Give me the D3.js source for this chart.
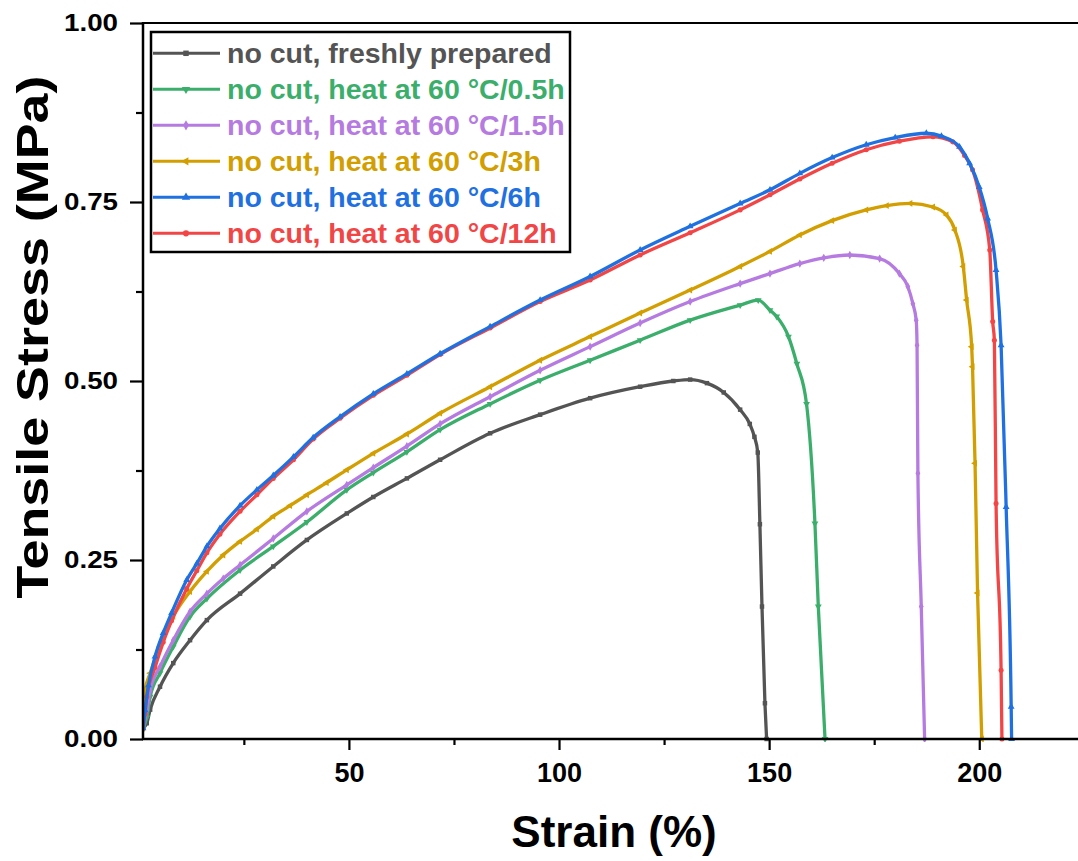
<!DOCTYPE html>
<html><head><meta charset="utf-8">
<script src="https://cdn.jsdelivr.net/npm/d3@7"></script>
<style>
body{margin:0;background:#fff}
text{font-family:"Liberation Sans",Arial,sans-serif;font-weight:bold}
</style>
</head><body><svg id="c" width="1078" height="861"></svg>
<script>
// ---------- data ----------
const seriesNames = [
  "no cut, freshly prepared",
  "no cut, heat at 60 \u00B0C/0.5h",
  "no cut, heat at 60 \u00B0C/1.5h",
  "no cut, heat at 60 \u00B0C/3h",
  "no cut, heat at 60 \u00B0C/6h",
  "no cut, heat at 60 \u00B0C/12h"
];
const xTicks = [50, 100, 150, 200];
const xMinorTicks = [25, 75, 125, 175];
const yTicks = [0, 0.25, 0.5, 0.75, 1.0];
const yMinorTicks = [0.125, 0.375, 0.625, 0.875];

const strainFresh = [1,1.9,2.7,5.05,8.2,12.2,16.2,24.1,32,40,49.5,55.8,63.8,71.7,83.6,95.5,107.4,119.3,127.2,131.2,135.2,139.2,143.1,145.4,146.5,147.3,147.8,148.3,149,149.4];
const stressFresh = [0.015,0.022,0.041,0.073,0.106,0.138,0.166,0.203,0.241,0.278,0.315,0.338,0.364,0.39,0.427,0.453,0.476,0.492,0.500,0.502,0.497,0.484,0.460,0.440,0.422,0.40,0.30,0.185,0.05,0];

const strain05 = [1,1.9,2.7,5.05,8.2,12.2,16.2,24.1,32,40,49.5,55.8,63.8,71.7,83.6,95.5,107.4,119.3,131.2,143.1,147.4,150.2,151.8,154.6,156.6,158.9,160.9,161.7,163.3];
const stress05 = [0.015,0.03,0.059,0.092,0.129,0.171,0.196,0.236,0.269,0.303,0.348,0.372,0.401,0.432,0.468,0.501,0.529,0.557,0.585,0.606,0.613,0.599,0.59,0.562,0.524,0.468,0.301,0.185,0];

const strain15 = [1,1.9,2.7,5.05,8.2,12.2,16.2,20.1,24.1,32,40,49.5,55.8,63.8,71.7,83.6,95.5,107.4,119.3,131.2,143.1,150.2,157.3,163,169.2,176.3,181,183,184.2,185,185.2,185.4,186.2,187];
const stress15 = [0.015,0.04,0.068,0.101,0.138,0.178,0.203,0.224,0.243,0.28,0.318,0.355,0.379,0.409,0.44,0.478,0.515,0.548,0.581,0.611,0.636,0.650,0.664,0.672,0.676,0.671,0.65,0.632,0.608,0.585,0.55,0.371,0.185,0];

const strain3 = [1,1.5,2.7,5.05,8.2,12.2,16.2,20.1,24.1,28.1,32,36,40,44.7,49.5,55.8,63.8,71.7,83.6,95.5,107.4,119.3,131.2,143.1,150.2,157.3,165,173.1,178,183.6,189,192.2,194.2,196.2,197,198.2,198.4,199,199.6,200.6];
const stress3 = [0.015,0.068,0.092,0.129,0.171,0.206,0.234,0.257,0.276,0.293,0.311,0.326,0.341,0.358,0.376,0.399,0.426,0.455,0.492,0.529,0.562,0.595,0.627,0.660,0.681,0.704,0.724,0.739,0.745,0.748,0.743,0.732,0.711,0.66,0.613,0.548,0.52,0.385,0.204,0];

const strain6 = [1,1.5,2.3,3.86,5.8,7.8,11.4,13.8,16.2,19.3,24.1,28.1,32,36.8,41.5,47.9,55.8,63.8,71.7,83.6,95.5,107.4,119.3,131.2,143.1,150.2,157.3,165,173.1,180,187.4,191,195.3,197.7,200,202,204,205.2,206.4,207.6,207.7];
const stress6 = [0.015,0.04,0.075,0.115,0.148,0.176,0.222,0.245,0.269,0.294,0.326,0.348,0.368,0.394,0.421,0.450,0.482,0.510,0.538,0.576,0.613,0.646,0.683,0.716,0.748,0.767,0.790,0.812,0.830,0.840,0.846,0.842,0.827,0.804,0.771,0.727,0.655,0.55,0.324,0.045,0];

const strain12 = [1,1.5,1.9,3.86,5.8,7.8,11.4,13.8,16.2,19.3,24.1,28.1,32,36.8,41.5,47.9,55.8,63.8,71.7,83.6,95.5,107.4,119.3,131.2,143.1,150.2,157.3,165,173.1,181,189,193.7,196.5,198.4,200.8,202.5,203.2,203.6,204,205.2,205.4];
const stress12 = [0.015,0.035,0.059,0.10,0.135,0.165,0.21,0.235,0.26,0.286,0.318,0.341,0.364,0.39,0.419,0.448,0.480,0.508,0.537,0.574,0.611,0.641,0.676,0.707,0.739,0.760,0.782,0.804,0.823,0.835,0.841,0.834,0.815,0.795,0.739,0.683,0.583,0.557,0.329,0.096,0];

const seriesColors = ["#545454","#3BAE6B","#B57BE0","#D29E00","#1F70E0","#F24545"];

// ---------- layout ----------
const svg = d3.select("#c");
svg.append("rect").attr("width",1078).attr("height",861).attr("fill","#fff");

const x = d3.scaleLinear().domain([1, 223.5]).range([143, 1078]);
const y = d3.scaleLinear().domain([0, 1]).range([739, 23]);

const series = [
  {name: seriesNames[0], xs: strainFresh, ys: stressFresh, color: seriesColors[0], sym: d3.symbolSquare, rot: 0},
  {name: seriesNames[1], xs: strain05, ys: stress05, color: seriesColors[1], sym: d3.symbolTriangle, rot: 180},
  {name: seriesNames[2], xs: strain15, ys: stress15, color: seriesColors[2], sym: d3.symbolDiamond, rot: 0},
  {name: seriesNames[3], xs: strain3, ys: stress3, color: seriesColors[3], sym: d3.symbolTriangle, rot: -90},
  {name: seriesNames[4], xs: strain6, ys: stress6, color: seriesColors[4], sym: d3.symbolTriangle, rot: 0},
  {name: seriesNames[5], xs: strain12, ys: stress12, color: seriesColors[5], sym: d3.symbolCircle, rot: 0}
];

svg.append("clipPath").attr("id","pc").append("rect")
  .attr("x",143).attr("y",20).attr("width",935).attr("height",722);

// draw order: black, green, purple, gold, red, blue
const order = [0,1,2,3,5,4];
const line = d3.line().x(d => x(d[0])).y(d => y(d[1])).curve(d3.curveMonotoneX);
const gPlot = svg.append("g").attr("clip-path","url(#pc)");
order.forEach(i => {
  const s = series[i];
  const pts = s.xs.map((v,k) => [v, s.ys[k]]);
  gPlot.append("path").datum(pts).attr("d", line)
    .attr("fill","none").attr("stroke", s.color).attr("stroke-width",3.3)
    .attr("stroke-linejoin","round");
  gPlot.selectAll(null).data(pts).enter().append("path")
    .attr("d", d3.symbol().type(s.sym).size(20))
    .attr("transform", d => `translate(${x(d[0])},${y(d[1])}) rotate(${s.rot})`)
    .attr("fill", s.color);
});

// ---------- axes ----------
const fmtY = d3.format(".2f");
const gx = svg.append("g").attr("transform","translate(0,739)")
  .call(d3.axisBottom(x).tickValues(xTicks).tickSize(11).tickPadding(13).tickFormat(d3.format("d")));
const gxm = svg.append("g").attr("transform","translate(0,739)")
  .call(d3.axisBottom(x).tickValues(xMinorTicks).tickSize(6).tickFormat(""));
const gy = svg.append("g").attr("transform","translate(143,0)")
  .call(d3.axisLeft(y).tickValues(yTicks).tickSize(13).tickPadding(12).tickFormat(fmtY));
const gym = svg.append("g").attr("transform","translate(143,0)")
  .call(d3.axisLeft(y).tickValues(yMinorTicks).tickSize(7).tickFormat(""));
[gx,gxm,gy,gym].forEach(g => {
  g.select(".domain").remove();
  g.selectAll(".tick line").attr("stroke","#000").attr("stroke-width",2.2);
});
gx.selectAll(".tick text").attr("font-size",27).attr("fill","#000");
gy.selectAll(".tick text").attr("font-size",23).attr("fill","#000")
  .attr("textLength",54).attr("lengthAdjust","spacingAndGlyphs");

// axis lines / frame
svg.append("line").attr("x1",143).attr("x2",143).attr("y1",22).attr("y2",740)
  .attr("stroke","#000").attr("stroke-width",2.5);
svg.append("line").attr("x1",142).attr("x2",1078).attr("y1",739).attr("y2",739)
  .attr("stroke","#000").attr("stroke-width",2.5);
svg.append("line").attr("x1",142).attr("x2",1078).attr("y1",23).attr("y2",23)
  .attr("stroke","#000").attr("stroke-width",2);

// axis titles
svg.append("text").attr("x",614).attr("y",847).attr("text-anchor","middle")
  .attr("font-size",44).attr("fill","#000").text("Strain (%)");
svg.append("text").attr("transform","translate(48,337) rotate(-90)").attr("text-anchor","middle")
  .attr("font-size",44).attr("fill","#000")
  .attr("textLength",523).attr("lengthAdjust","spacingAndGlyphs")
  .text("Tensile Stress (MPa)");

// ---------- legend ----------
const lg = svg.append("g");
lg.append("rect").attr("x",151).attr("y",32).attr("width",419).attr("height",220)
  .attr("fill","#fff").attr("stroke","#000").attr("stroke-width",2.5);
series.forEach((s,i) => {
  const cy = 53.3 + i*36;
  lg.append("line").attr("x1",153).attr("x2",220).attr("y1",cy).attr("y2",cy)
    .attr("stroke",s.color).attr("stroke-width",3);
  lg.append("path").attr("d", d3.symbol().type(s.sym).size(30)())
    .attr("transform",`translate(186,${cy}) rotate(${s.rot})`).attr("fill",s.color);
  lg.append("text").attr("x",227).attr("y",cy+10).attr("font-size",28.5)
    .attr("fill",s.color).text(s.name);
});
</script></body></html>
